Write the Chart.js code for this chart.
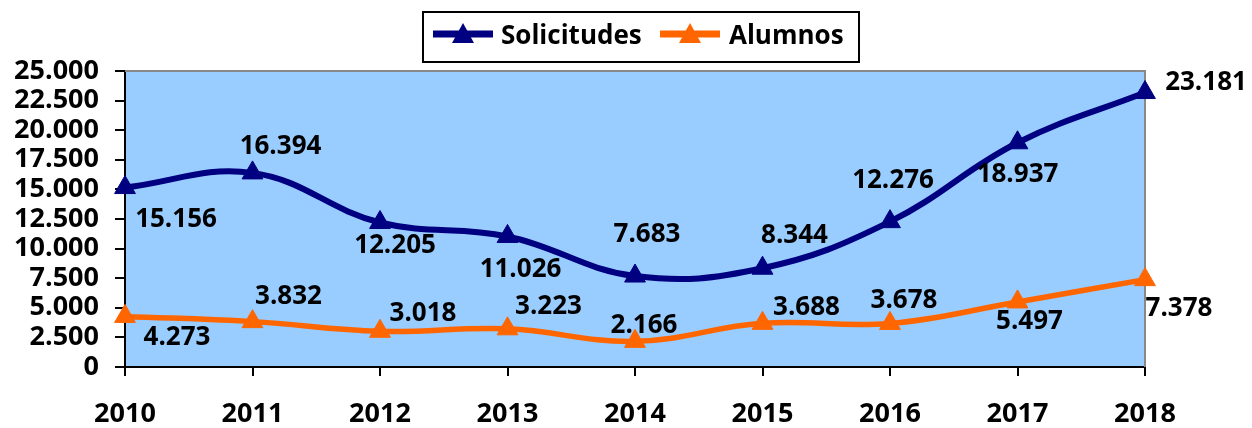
<!DOCTYPE html>
<html>
<head>
<meta charset="utf-8">
<script src="https://cdn.jsdelivr.net/npm/chart.js@4/dist/chart.umd.min.js"></script>
<style>
  html, body { margin: 0; padding: 0; background: #ffffff; }
  #wrap { width: 1252px; height: 428px; }
</style>
</head>
<body>
<div id="wrap"><canvas id="c" width="1252" height="428"></canvas></div>
<script>
const years = ['2010','2011','2012','2013','2014','2015','2016','2017','2018'];
const solicitudes = [15156, 16394, 12205, 11026, 7683, 8344, 12276, 18937, 23181];
const alumnos = [4273, 3832, 3018, 3223, 2166, 3688, 3678, 5497, 7378];
const seriesNames = ['Solicitudes', 'Alumnos'];
const yMin = 0, yMax = 25000, yStep = 2500;

// label offsets (px) relative to each point, per series
const labelOffsets = [
  [[51,31],[28,-27],[15,22],[13,32],[12,-42],[32,-34],[3,-42],[0,31],[61,-11]],
  [[52,20],[36,-26],[43,-19],[41,-23],[9,-17],[44,-17],[14,-24],[12,19],[34,28]]
];

const FONT = '"Open Sans", "Liberation Sans", sans-serif';
function fmt(v) { return String(v).replace(/\B(?=(\d{3})+(?!\d))/g, '.'); }

const colors = ['#000080', '#FF6600'];

const plotBg = {
  id: 'plotBg',
  beforeDraw(chart) {
    const {ctx, chartArea: a} = chart;
    ctx.save();
    ctx.fillStyle = '#99CCFF';
    ctx.fillRect(a.left, a.top, a.right - a.left, a.bottom - a.top);
    ctx.restore();
  },
  beforeDatasetsDraw(chart) {
    const {ctx, chartArea: a} = chart;
    ctx.save();
    ctx.strokeStyle = '#888888';
    ctx.lineWidth = 2;
    ctx.beginPath();
    ctx.moveTo(a.left, a.top);
    ctx.lineTo(a.right, a.top);
    ctx.lineTo(a.right, a.bottom);
    ctx.stroke();
    ctx.restore();
  }
};

const dataLabels = {
  id: 'dataLabels',
  afterDatasetsDraw(chart) {
    const ctx = chart.ctx;
    ctx.save();
    ctx.font = 'bold 26px ' + FONT;
    ctx.fillStyle = '#000';
    ctx.textAlign = 'center';
    ctx.textBaseline = 'middle';
    chart.data.datasets.forEach((ds, di) => {
      const meta = chart.getDatasetMeta(di);
      meta.data.forEach((pt, i) => {
        const off = labelOffsets[di][i];
        ctx.fillText(fmt(ds.data[i]), pt.x + off[0], pt.y + off[1] + 1);
      });
    });
    ctx.restore();
  }
};

const customLegend = {
  id: 'customLegend',
  afterDraw(chart) {
    const ctx = chart.ctx;
    ctx.save();
    ctx.strokeStyle = '#000';
    ctx.lineWidth = 2;
    ctx.fillStyle = '#fff';
    ctx.fillRect(423, 12, 436, 50);
    ctx.strokeRect(423, 12, 436, 50);
    const items = [
      {x0: 433, x1: 493, tx: 501},
      {x0: 660, x1: 720, tx: 729}
    ];
    ctx.font = 'bold 26px ' + FONT;
    ctx.textBaseline = 'middle';
    ctx.textAlign = 'left';
    chart.data.datasets.forEach((ds, di) => {
      const it = items[di];
      const cy = 34;
      ctx.strokeStyle = ds.borderColor;
      ctx.lineWidth = 7;
      ctx.beginPath();
      ctx.moveTo(it.x0, cy);
      ctx.lineTo(it.x1, cy);
      ctx.stroke();
      const cx = (it.x0 + it.x1) / 2;
      ctx.fillStyle = ds.borderColor;
      ctx.beginPath();
      ctx.moveTo(cx, cy - 11);
      ctx.lineTo(cx + 11, cy + 9);
      ctx.lineTo(cx - 11, cy + 9);
      ctx.closePath();
      ctx.fill();
      ctx.fillStyle = '#000';
      ctx.fillText(ds.label, it.tx, cy + 3);
    });
    ctx.restore();
  }
};

new Chart(document.getElementById('c'), {
  type: 'line',
  data: {
    labels: years,
    datasets: [
      {
        label: seriesNames[0],
        data: solicitudes,
        borderColor: colors[0],
        backgroundColor: colors[0],
        borderWidth: 6,
        tension: 0.4,
        pointStyle: 'triangle',
        pointRadius: 12,
        pointBorderWidth: 1,
        pointBackgroundColor: colors[0],
        pointBorderColor: colors[0]
      },
      {
        label: seriesNames[1],
        data: alumnos,
        borderColor: colors[1],
        backgroundColor: colors[1],
        borderWidth: 5.5,
        tension: 0.4,
        pointStyle: 'triangle',
        pointRadius: 12,
        pointBorderWidth: 1,
        pointBackgroundColor: colors[1],
        pointBorderColor: colors[1]
      }
    ]
  },
  options: {
    responsive: false,
    animation: false,
    devicePixelRatio: 1,
    layout: { padding: { left: 0, right: 107, top: 71, bottom: 0 } },
    plugins: {
      legend: { display: false },
      tooltip: { enabled: false }
    },
    scales: {
      x: {
        type: 'category',
        offset: false,
        afterFit(scale) { scale.height = 61; },
        grid: { drawOnChartArea: false, drawTicks: true, tickLength: 9, color: '#000', lineWidth: 2 },
        border: { display: true, color: '#000', width: 2 },
        ticks: { color: '#000', font: { family: FONT, size: 27, weight: 'bold' }, padding: 22, maxRotation: 0, autoSkip: false }
      },
      y: {
        min: yMin,
        max: yMax,
        afterFit(scale) { scale.width = 125; },
        grid: { drawOnChartArea: false, drawTicks: true, tickLength: 10, color: '#000', lineWidth: 2 },
        border: { display: true, color: '#000', width: 2 },
        ticks: {
          stepSize: yStep,
          autoSkip: false,
          color: '#000',
          font: { family: FONT, size: 27, weight: 'bold', lineHeight: 1 },
          padding: 16,
          callback: v => fmt(v)
        }
      }
    }
  },
  plugins: [plotBg, dataLabels, customLegend]
});
</script>
</body>
</html>
